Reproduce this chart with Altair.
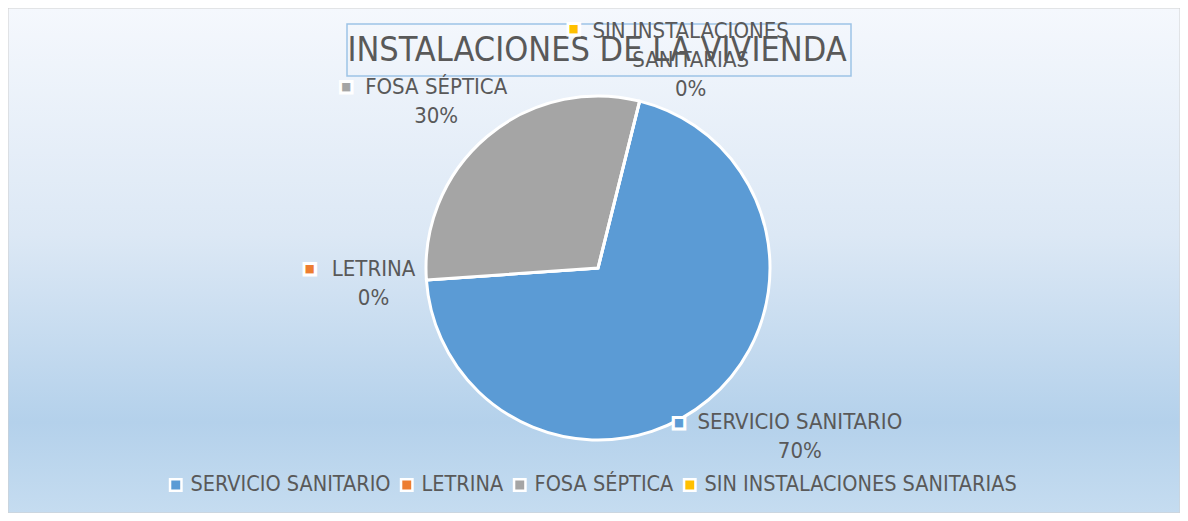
import altair as alt
import pandas as pd
import math

# ---- data ----
categories = ["SERVICIO SANITARIO", "LETRINA", "FOSA SÉPTICA", "SIN INSTALACIONES SANITARIAS"]
label_lines = [["SERVICIO SANITARIO"], ["LETRINA"], ["FOSA SÉPTICA"], ["SIN INSTALACIONES", "SANITARIAS"]]
percent = [70, 0, 30, 0]
colors = ["#5B9BD5", "#ED7D31", "#A5A5A5", "#FFC000"]
title_text = "INSTALACIONES DE LA VIVIENDA"

W, H = 1172, 505
CX, CY = 590, 260
R = 172
START = math.radians(14)
FONT = "Liberation Sans Narrow, DejaVu Sans Condensed, Open Sans"
TXT = "#595959"

rows = []
cum = 0
for i, (c, lines, p) in enumerate(zip(categories, label_lines, percent)):
    rows.append({"idx": i, "cat": c, "value": p, "start": cum, "end": cum + p,
                 "mid": cum + p / 2, "label": lines + [f"{p}%"]})
    cum += p
df = pd.DataFrame(rows)

theta_scale = alt.Scale(domain=[0, 100], range=[START, START + 2 * math.pi])
color_scale = alt.Scale(domain=categories, range=colors)

base = alt.Chart(df)

bg = alt.Chart(pd.DataFrame({"a": [0]})).mark_rect(
    color={"gradient": "linear", "x1": 0, "y1": 0, "x2": 0, "y2": 1,
           "stops": [{"offset": 0, "color": "#F5F8FD"},
                     {"offset": 0.45, "color": "#DCE8F5"},
                     {"offset": 0.82, "color": "#B4D1EB"},
                     {"offset": 1, "color": "#C5DCF0"}]},
    stroke="#D0D0D0", strokeWidth=1,
).encode(x=alt.value(0), x2=alt.value(W), y=alt.value(0), y2=alt.value(H))

pie = base.mark_arc(outerRadius=R, stroke="white", strokeWidth=3).encode(
    theta=alt.Theta("start:Q", scale=theta_scale),
    theta2="end:Q",
    color=alt.Color("cat:N", scale=color_scale, sort=categories,
                    legend=alt.Legend(title=None, orient="none", direction="horizontal",
                                      legendX=157, legendY=466,
                                      symbolType="square", symbolSize=130,
                                      symbolStrokeColor="white", symbolStrokeWidth=2.5,
                                      symbolOpacity=1,
                                      labelFont=FONT, labelFontSize=21.5, labelColor=TXT,
                                      labelOffset=4, columnPadding=5, labelLimit=400)),
    x=alt.value(CX), y=alt.value(CY),
)

# label offsets (first-line centre and marker) relative to polar anchor at radius 230
label_cfg = {
    "SERVICIO SANITARIO": dict(dx=54, dy=-22, mdx=-67, mdy=-22),
    "LETRINA": dict(dx=5, dy=-15, mdx=-59, mdy=-16),
    "FOSA SÉPTICA": dict(dx=-14, dy=-5, mdx=-104, mdy=-6),
    "SIN INSTALACIONES SANITARIAS": dict(dx=37, dy=-14, mdx=-80, mdy=-17),
}

label_layers = []
for c in categories:
    cfg = label_cfg[c]
    sub = base.transform_filter(alt.datum.cat == c)
    label_layers.append(sub.mark_text(font=FONT, fontSize=22, color=TXT, baseline="middle",
                                      align="center", lineHeight=29,
                                      radius=230, dx=cfg["dx"], dy=cfg["dy"]).encode(
        theta=alt.Theta("mid:Q", scale=theta_scale),
        text="label",
        x=alt.value(CX), y=alt.value(CY),
    ))
    label_layers.append(sub.mark_text(font="DejaVu Sans", fontSize=15, baseline="middle",
                                      align="center", stroke="white", strokeWidth=3,
                                      radius=230, dx=cfg["mdx"], dy=cfg["mdy"]).encode(
        theta=alt.Theta("mid:Q", scale=theta_scale),
        text=alt.value("■"),
        color=alt.Color("cat:N", scale=color_scale, legend=None),
        x=alt.value(CX), y=alt.value(CY),
    ))

title_box = alt.Chart(pd.DataFrame({"a": [0]})).mark_rect(
    fill="transparent", stroke="#9DC3E6", strokeWidth=1.5
).encode(x=alt.value(339), x2=alt.value(843), y=alt.value(16), y2=alt.value(68))

title = alt.Chart(pd.DataFrame({"t": [title_text]})).mark_text(
    font=FONT, fontSize=34, color=TXT, align="center", baseline="middle"
).encode(text="t:N", x=alt.value(CX - 1), y=alt.value(43))

chart = alt.layer(bg, title_box, title, pie, *label_layers).properties(
    width=W, height=H, autosize=alt.AutoSizeParams(type="none"), padding=0
).configure_view(stroke=None)

chart.save("out.html", embed_options={"renderer": "svg", "actions": False})
